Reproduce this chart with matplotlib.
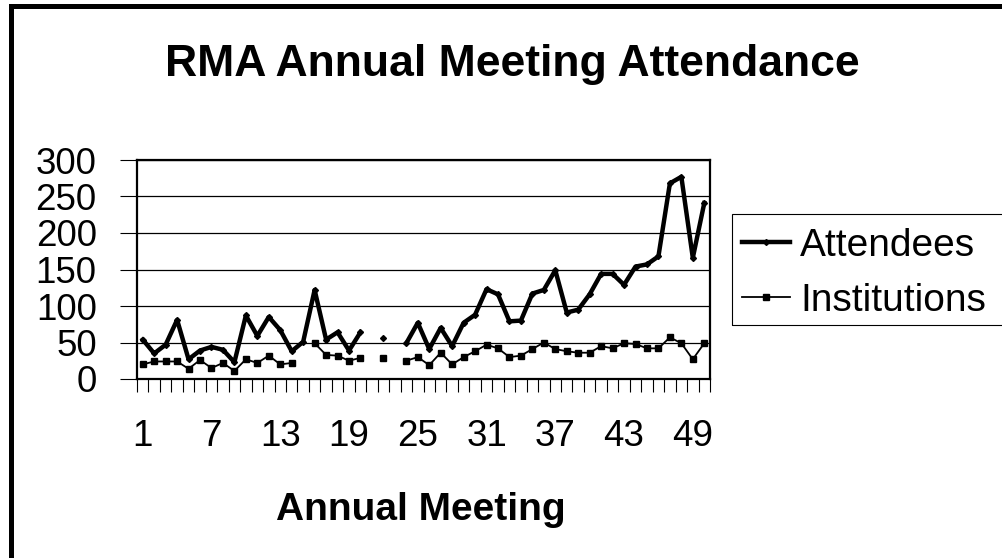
import numpy as np
import matplotlib
matplotlib.use('Agg')
import matplotlib.pyplot as plt
from matplotlib.patches import Rectangle

nan = np.nan

# data
meetings = list(range(1, 51))
attendees = [54, 35, 47, 81, 27, 39, 44, 40, 23, 87,
             59, 85, 67, 38, 51, 122, 54, 64, 39, 64,
             nan, 56, nan, 49, 77, 41, 70, 45, 77, 88,
             123, 116, 79, 80, 117, 122, 149, 91, 95, 116,
             144, 144, 129, 154, 157, 168, 268, 277, 166, 241]
institutions = [20, 24, 24, 24, 14, 26, 15, 22, 11, 27,
                22, 32, 20, 22, nan, 49, 33, 32, 25, 29,
                nan, 29, nan, 25, 30, 19, 36, 20, 30, 38,
                47, 42, 30, 32, 41, 50, 41, 38, 36, 36,
                45, 42, 49, 48, 42, 42, 57, 49, 27, 49]
tick_labels = [1, 7, 13, 19, 25, 31, 37, 43, 49]
y_ticks = [0, 50, 100, 150, 200, 250, 300]

plt.rcParams['font.family'] = ['Liberation Sans', 'DejaVu Sans']

W, H = 1002, 558
fig = plt.figure(figsize=(W / 100, H / 100), dpi=100)

# outer chart frame (only top and left edges show in the reference)
fig.patches.append(Rectangle((10.5 / W, -0.1), 1.2, 1.1 - 6 / H,
                             transform=fig.transFigure, fill=False,
                             lw=3.6, ec='black'))

ax = fig.add_axes([137 / W, 1 - 379 / H, (710 - 137) / W, (379 - 160) / H])

ax.plot(meetings, attendees, color='black', lw=3.2, marker='D', ms=3,
        label='Attendees')
ax.plot(meetings, institutions, color='black', lw=1.3, marker='s', ms=5,
        label='Institutions')

ax.set_xlim(0.5, 50.5)
ax.set_ylim(0, 300)
ax.set_yticks(y_ticks)
ax.yaxis.grid(True, color='black', lw=0.9)
ax.set_axisbelow(True)

ax.set_xticks(tick_labels)
ax.set_xticklabels([str(t) for t in tick_labels])
ax.set_xticks(np.arange(0.5, 51, 1), minor=True)
ax.tick_params(axis='x', which='major', length=0, pad=29, labelsize=26.5)
ax.tick_params(axis='x', which='minor', length=9, width=0.8)
ax.tick_params(axis='y', length=12, width=0.8, pad=17, labelsize=26.5)

for s in ax.spines.values():
    s.set_linewidth(1.6)

fig.text(512 / W, 1 - 76 / H, 'RMA Annual Meeting Attendance',
         ha='center', va='baseline', fontsize=32, fontweight='bold')
fig.text(421 / W, 1 - 520 / H, 'Annual Meeting',
         ha='center', va='baseline', fontsize=28, fontweight='bold')

# legend box runs off the right edge in the reference
fig.patches.append(Rectangle((732 / W, 1 - 325 / H), 0.5, (325 - 214) / H,
                             transform=fig.transFigure, fill=False,
                             lw=0.8, ec='black'))
fig.legend(loc='upper left', bbox_to_anchor=(728 / W, 1 - 214 / H),
           frameon=False, fontsize=28, handlelength=1.25,
           handletextpad=0.25, labelspacing=0.5, borderpad=0.35,
           borderaxespad=0)

fig.savefig('out.png', dpi=100)
